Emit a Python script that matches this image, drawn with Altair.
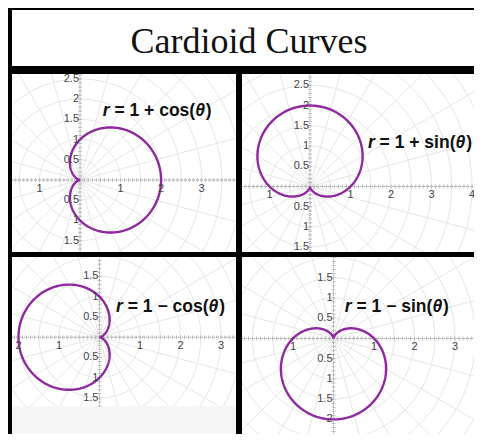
import altair as alt
import numpy as np
import pandas as pd

# ---------------- data ----------------
TITLE = "Cardioid Curves"
SIGNS = ["+", "+", "−", "−"]          # sign in r = 1 ± f(θ)
FUNCS = ["cos", "sin", "cos", "sin"]
X_TICKS = [[-1, 1, 2, 3], [-1, 1, 2, 3, 4], [-2, -1, 1, 2, 3], [-1, 1, 2, 3]]
Y_TICKS = [[2.5, 2, 1.5, 1, 0.5, -0.5, -1, -1.5],
           [2.5, 2, 1.5, 1, 0.5, -0.5, -1, -1.5],
           [1.5, 1, 0.5, -0.5, -1, -1.5],
           [1.5, 1, 0.5, -0.5, -1, -1.5, -2]]
GRID_RADII = [0.5, 1, 1.5, 2, 2.5, 3, 3.5, 4, 4.5, 5, 5.5]
GRID_ANGLES = list(range(0, 360, 15))

# ---------------- layout / style ----------------
PANEL_W = [224, 232, 224, 232]
PANEL_H = [178, 178, 177, 177]
X_DOM = [[-1.68, 3.85], [-1.68, 4.05], [-2.16, 3.37], [-2.26, 3.47]]
Y_DOM = [[-1.78, 2.62], [-1.62, 2.78], [-2.39, 1.98], [-2.36, 2.01]]
GRAPH_BOTTOM = [None, None, -1.70, None]
LABEL_POS = [(0.56, 1.71), (1.43, 1.07), (0.41, 0.75), (0.28, 0.77)]
CURVE_COLOR = "#8e2a9e"
GRID_COLOR = "#e6e6e6"
AXIS_COLOR = "#a8a8a8"
SANS = "Liberation Sans"
FS = 17.5
CHAR_W = {'r': 389, ' ': 278, '=': 584, '1': 556, '+': 584, '−': 584, 'c': 556,
          'o': 611, 's': 556, 'i': 278, 'n': 611, '(': 333, ')': 333, 'θ': 611}


def text_w(s):
    return sum(CHAR_W.get(c, 556) for c in s) * FS / 1000.0


def panel(i):
    xs = alt.Scale(domain=X_DOM[i], nice=False, zero=False)
    ys = alt.Scale(domain=Y_DOM[i], nice=False, zero=False)
    X = lambda f: alt.X(f, type="quantitative", scale=xs, axis=None)
    Y = lambda f: alt.Y(f, type="quantitative", scale=ys, axis=None)
    xmin, xmax = X_DOM[i]
    ymin, ymax = Y_DOM[i]
    gb = GRAPH_BOTTOM[i] if GRAPH_BOTTOM[i] is not None else ymin

    # polar grid
    a = np.radians(np.arange(0, 362, 2))
    circ = pd.concat([pd.DataFrame({"rad": r, "k": np.arange(len(a)),
                                    "x": r * np.cos(a), "y": r * np.sin(a)})
                      for r in GRID_RADII])
    circles = alt.Chart(circ).mark_line(clip=True, color=GRID_COLOR, strokeWidth=1).encode(
        x=X("x"), y=Y("y"), detail="rad:N", order="k:Q")
    ang = np.radians(GRID_ANGLES)
    rad_df = pd.DataFrame({"x0": 0.0, "y0": 0.0, "x1": 7 * np.cos(ang), "y1": 7 * np.sin(ang)})
    radials = alt.Chart(rad_df).mark_rule(clip=True, color=GRID_COLOR, strokeWidth=1).encode(
        x=X("x0"), y=Y("y0"), x2="x1", y2="y1")
    layers = [circles, radials]
    if GRAPH_BOTTOM[i] is not None:
        cover = alt.Chart(pd.DataFrame({"xa": [xmin], "xb": [xmax], "ya": [ymin], "yb": [gb]})).mark_rect(
            clip=True, color="#f6f6f6").encode(x=X("xa"), x2="xb", y=Y("ya"), y2="yb")
        layers.append(cover)

    # axes through the origin
    xa = alt.Chart(pd.DataFrame({"a": [xmin], "b": [xmax], "y": [0.0]})).mark_rule(
        clip=True, color=AXIS_COLOR, strokeWidth=1, strokeDash=[1, 1]).encode(x=X("a"), x2="b", y=Y("y"))
    ya = alt.Chart(pd.DataFrame({"a": [gb], "b": [ymax], "x": [0.0]})).mark_rule(
        clip=True, color=AXIS_COLOR, strokeWidth=1, strokeDash=[1, 1]).encode(y=Y("a"), y2="b", x=X("x"))
    xt = np.round(np.arange(np.ceil(xmin * 10), np.floor(xmax * 10) + 1) / 10, 2)
    yt = np.round(np.arange(np.ceil(gb * 10), np.floor(ymax * 10) + 1) / 10, 2)
    xticks = alt.Chart(pd.DataFrame({"v": xt, "z": 0.0})).mark_tick(
        orient="vertical", size=4, thickness=1, color=AXIS_COLOR, clip=True).encode(x=X("v"), y=Y("z"))
    yticks = alt.Chart(pd.DataFrame({"v": yt, "z": 0.0})).mark_tick(
        orient="horizontal", size=4, thickness=1, color=AXIS_COLOR, clip=True).encode(y=Y("v"), x=X("z"))
    layers += [xa, ya, xticks, yticks]

    # cardioid curve r = 1 ± f(θ)
    op = "+" if SIGNS[i] == "+" else "-"
    curve = alt.Chart(alt.sequence(0, 361, 1, as_="deg")).transform_calculate(
        t="datum.deg * PI / 180"
    ).transform_calculate(
        r=f"1 {op} {FUNCS[i]}(datum.t)"
    ).transform_calculate(
        cx="datum.r * cos(datum.t)", cy="datum.r * sin(datum.t)"
    ).mark_line(clip=True, color=CURVE_COLOR, strokeWidth=2.4).encode(
        x=X("cx"), y=Y("cy"), order="deg:Q")
    layers.append(curve)

    # tick labels (absolute values, as in the reference)
    xl = pd.DataFrame({"v": X_TICKS[i], "z": 0.0, "s": [f"{abs(v):g}" for v in X_TICKS[i]]})
    yl = pd.DataFrame({"v": Y_TICKS[i], "z": 0.0, "s": [f"{abs(v):g}" for v in Y_TICKS[i]]})
    xlab = alt.Chart(xl).mark_text(font=SANS, fontSize=11, color="#444", dy=9,
                                   align="center", baseline="middle", clip=True).encode(
        x=X("v"), y=Y("z"), text="s:N")
    ylab = alt.Chart(yl).mark_text(font=SANS, fontSize=11, color="#444", dx=-1,
                                   align="right", baseline="middle", clip=True).encode(
        x=X("z"), y=Y("v"), text="s:N")
    layers += [xlab, ylab]

    # formula label (pieces so that r and θ are italic)
    pieces = [("r", "italic"), (f" = 1 {SIGNS[i]} {FUNCS[i]}(", "normal"), ("θ", "italic"), (")", "normal")]
    lx, ly = LABEL_POS[i]
    off = 0.0
    for s, style in pieces:
        core = s.lstrip(" ")
        off += text_w(s[: len(s) - len(core)])
        t = alt.Chart(pd.DataFrame({"x": [lx], "y": [ly], "s": [core]})).mark_text(
            font=SANS, fontSize=FS, fontWeight="bold", fontStyle=style, color="#111",
            align="left", baseline="middle", dx=off, clip=True).encode(
            x=X("x"), y=Y("y"), text="s:N")
        layers.append(t)
        off += text_w(core)

    return alt.layer(*layers).properties(width=PANEL_W[i], height=PANEL_H[i])


title = alt.Chart(pd.DataFrame({"t": [TITLE]})).mark_text(
    font="Liberation Serif", fontSize=36, color="#111", align="center", baseline="alphabetic"
).encode(x=alt.value(237), y=alt.value(43), text="t:N").properties(width=462, height=56)

row1 = alt.hconcat(panel(0), panel(1), spacing=6, bounds="flush")
row2 = alt.hconcat(panel(2), panel(3), spacing=6, bounds="flush")
grid = alt.vconcat(row1, row2, spacing=5)

chart = alt.vconcat(title, grid, spacing=8).configure(
    background="black", padding={"left": 4, "top": 2, "right": 0, "bottom": 0}
).configure_view(fill="white", strokeWidth=0)

chart.save("out.html", embed_options={"renderer": "svg", "actions": False})
